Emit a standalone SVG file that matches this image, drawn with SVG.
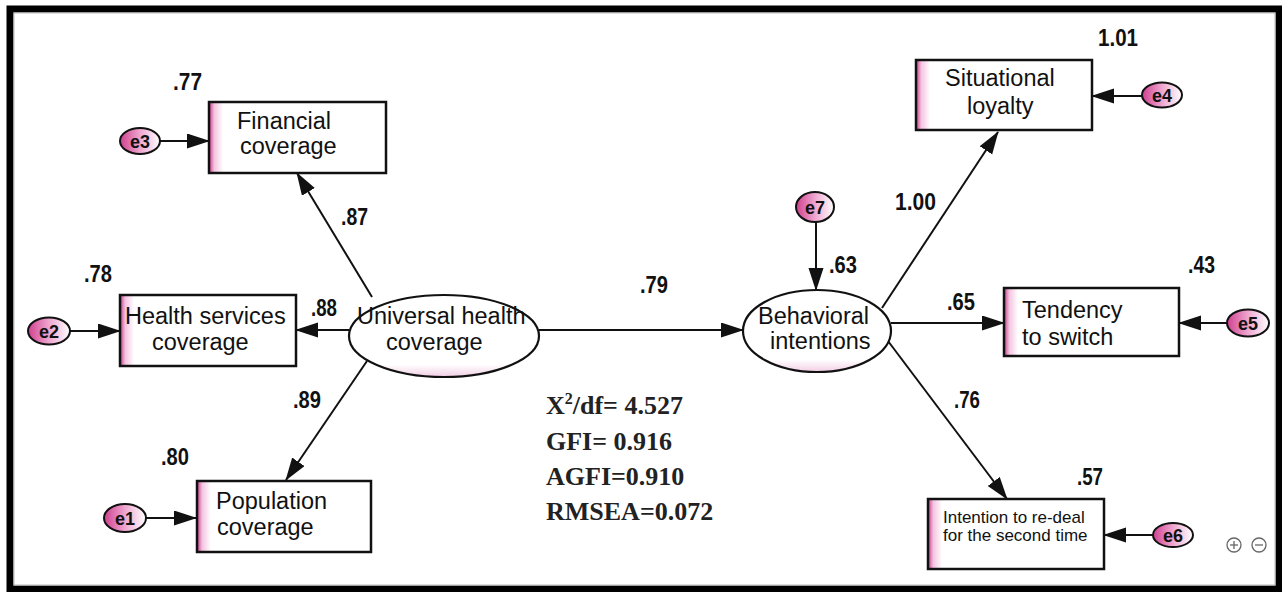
<svg xmlns="http://www.w3.org/2000/svg" width="1282" height="592" viewBox="0 0 1282 592">
<style>
.box{stroke:#111;stroke-width:2.5;fill:url(#boxg)}
.lat{stroke:#111;stroke-width:2.2;fill:url(#latg)}
.err{stroke:#111;stroke-width:2;fill:url(#errg)}
.t{font-family:"Liberation Sans",Arial,sans-serif;font-size:23.5px;fill:#111}
.ts{font-family:"Liberation Sans",Arial,sans-serif;font-size:17px;fill:#111}
.n{font-family:"Liberation Sans",Arial,sans-serif;font-size:23px;font-weight:bold;fill:#111}
.e{font-family:"Liberation Sans",Arial,sans-serif;font-size:19px;font-weight:bold;fill:#111}
.fit{font-family:"Liberation Serif","Times New Roman",serif;font-size:26px;font-weight:bold;fill:#222}
.c{stroke:#111;stroke-width:2;fill:none;marker-end:url(#ah)}
</style>
<defs>
<marker id="ah" markerUnits="userSpaceOnUse" markerWidth="24" markerHeight="16" refX="22" refY="7.5" orient="auto">
<path d="M0,0 L23,7.5 L0,15 z" fill="#111"/>
</marker>
<linearGradient id="boxg" x1="0" y1="0" x2="1" y2="0">
<stop offset="0" stop-color="#c8388c"/>
<stop offset="0.03" stop-color="#f3c4e0"/>
<stop offset="0.08" stop-color="#ffffff"/>
</linearGradient>
<linearGradient id="errg" x1="0" y1="0" x2="1" y2="0">
<stop offset="0" stop-color="#d0408f"/>
<stop offset="0.5" stop-color="#eea6cf"/>
<stop offset="1" stop-color="#ffffff"/>
</linearGradient>
<linearGradient id="latg" x1="0" y1="0" x2="0" y2="1">
<stop offset="0" stop-color="#ffffff"/>
<stop offset="0.85" stop-color="#ffffff"/>
<stop offset="1" stop-color="#f2cde4"/>
</linearGradient>
</defs>
<rect x="0" y="0" width="1282" height="592" fill="#ffffff"/>
<rect x="10" y="9" width="1269" height="580" fill="#ffffff" stroke="#000" stroke-width="7"/>
<rect x="14" y="13" width="1261" height="572" fill="none" stroke="#bbb" stroke-width="1"/>

<g id="connectors">
<line class="c" x1="160" y1="141" x2="209" y2="141"/>
<line class="c" x1="70" y1="331" x2="120" y2="331"/>
<line class="c" x1="146" y1="518" x2="196" y2="518"/>
<line class="c" x1="372" y1="297" x2="297" y2="173"/>
<line class="c" x1="349" y1="330" x2="296" y2="330"/>
<line class="c" x1="367" y1="361" x2="286" y2="480"/>
<line class="c" x1="539" y1="330" x2="743" y2="330"/>
<line class="c" x1="816" y1="222" x2="816" y2="290"/>
<line class="c" x1="882" y1="308" x2="998" y2="132"/>
<line class="c" x1="891" y1="323" x2="1004" y2="323"/>
<line class="c" x1="888" y1="341" x2="1007" y2="499"/>
<line class="c" x1="1142" y1="96" x2="1092" y2="96"/>
<line class="c" x1="1227" y1="323" x2="1179" y2="323"/>
<line class="c" x1="1153" y1="535" x2="1104" y2="535"/>
</g>

<g id="financial">
<rect class="box" x="209" y="102" width="177" height="71"/>
<text class="t" x="237" y="129">Financial</text>
<text class="t" x="240" y="154">coverage</text>
<text class="n" x="173" y="90" textLength="29" lengthAdjust="spacingAndGlyphs">.77</text>
</g>
<g id="health-services">
<rect class="box" x="120" y="295" width="176" height="71"/>
<text class="t" x="125" y="324">Health services</text>
<text class="t" x="152" y="350">coverage</text>
<text class="n" x="84" y="282" textLength="28" lengthAdjust="spacingAndGlyphs">.78</text>
</g>
<g id="population">
<rect class="box" x="197" y="481" width="174" height="71"/>
<text class="t" x="216" y="509">Population</text>
<text class="t" x="217" y="535">coverage</text>
<text class="n" x="161" y="465" textLength="28" lengthAdjust="spacingAndGlyphs">.80</text>
</g>
<g id="uhc">
<ellipse class="lat" cx="444" cy="336" rx="95" ry="41"/>
<text class="t" x="357" y="324">Universal health</text>
<text class="t" x="386" y="350">coverage</text>
</g>
<g id="behavioral">
<ellipse class="lat" cx="817" cy="331" rx="74" ry="41"/>
<text class="t" x="758" y="324">Behavioral</text>
<text class="t" x="770" y="349">intentions</text>
<text class="n" x="829" y="273" textLength="28" lengthAdjust="spacingAndGlyphs">.63</text>
</g>
<g id="situational">
<rect class="box" x="916" y="60" width="176" height="70"/>
<text class="t" x="945" y="86">Situational</text>
<text class="t" x="967" y="114">loyalty</text>
<text class="n" x="1098" y="46" textLength="40" lengthAdjust="spacingAndGlyphs">1.01</text>
</g>
<g id="tendency">
<rect class="box" x="1004" y="288" width="175" height="68"/>
<text class="t" x="1022" y="318">Tendency</text>
<text class="t" x="1022" y="345">to switch</text>
<text class="n" x="1188" y="273" textLength="27" lengthAdjust="spacingAndGlyphs">.43</text>
</g>
<g id="intention">
<rect class="box" x="928" y="499" width="176" height="70"/>
<text class="ts" x="943" y="523">Intention to re-deal</text>
<text class="ts" x="943" y="541">for the second time</text>
<text class="n" x="1077" y="485" textLength="26" lengthAdjust="spacingAndGlyphs">.57</text>
</g>

<g id="e3"><ellipse class="err" cx="140" cy="141" rx="20" ry="13"/><text class="e" x="130" y="148" textLength="20" lengthAdjust="spacingAndGlyphs">e3</text></g>
<g id="e2"><ellipse class="err" cx="49" cy="331" rx="21" ry="13.5"/><text class="e" x="39" y="338" textLength="20" lengthAdjust="spacingAndGlyphs">e2</text></g>
<g id="e1"><ellipse class="err" cx="125" cy="518" rx="21" ry="14"/><text class="e" x="115" y="525" textLength="20" lengthAdjust="spacingAndGlyphs">e1</text></g>
<g id="e4"><ellipse class="err" cx="1162" cy="95" rx="20" ry="12.5"/><text class="e" x="1152" y="102" textLength="20" lengthAdjust="spacingAndGlyphs">e4</text></g>
<g id="e5"><ellipse class="err" cx="1248" cy="323" rx="21" ry="13.5"/><text class="e" x="1238" y="330" textLength="20" lengthAdjust="spacingAndGlyphs">e5</text></g>
<g id="e6"><ellipse class="err" cx="1173" cy="535" rx="20" ry="12"/><text class="e" x="1163" y="542" textLength="20" lengthAdjust="spacingAndGlyphs">e6</text></g>
<g id="e7"><ellipse class="err" cx="815" cy="207" rx="19" ry="15"/><text class="e" x="805" y="214" textLength="20" lengthAdjust="spacingAndGlyphs">e7</text></g>

<g id="path-labels">
<text class="n" x="341" y="225" textLength="27" lengthAdjust="spacingAndGlyphs">.87</text>
<text class="n" x="311" y="316" textLength="26" lengthAdjust="spacingAndGlyphs">.88</text>
<text class="n" x="293" y="408" textLength="28" lengthAdjust="spacingAndGlyphs">.89</text>
<text class="n" x="640" y="293" textLength="28" lengthAdjust="spacingAndGlyphs">.79</text>
<text class="n" x="895" y="210" textLength="41" lengthAdjust="spacingAndGlyphs">1.00</text>
<text class="n" x="947" y="310" textLength="28" lengthAdjust="spacingAndGlyphs">.65</text>
<text class="n" x="954" y="408" textLength="26" lengthAdjust="spacingAndGlyphs">.76</text>
</g>

<g id="fit-indices">
<text class="fit" x="546" y="414">X<tspan font-size="16" dy="-10">2</tspan><tspan dy="10">/df= 4.527</tspan></text>
<text class="fit" x="546" y="450">GFI= 0.916</text>
<text class="fit" x="546" y="485">AGFI=0.910</text>
<text class="fit" x="546" y="520">RMSEA=0.072</text>
</g>

<g id="zoom-icons" stroke="#666" stroke-width="1.3" fill="none">
<circle cx="1234" cy="545" r="7"/>
<line x1="1230" y1="545" x2="1238" y2="545"/>
<line x1="1234" y1="541" x2="1234" y2="549"/>
<circle cx="1259" cy="545" r="7"/>
<line x1="1255" y1="545" x2="1263" y2="545"/>
</g>
</svg>
